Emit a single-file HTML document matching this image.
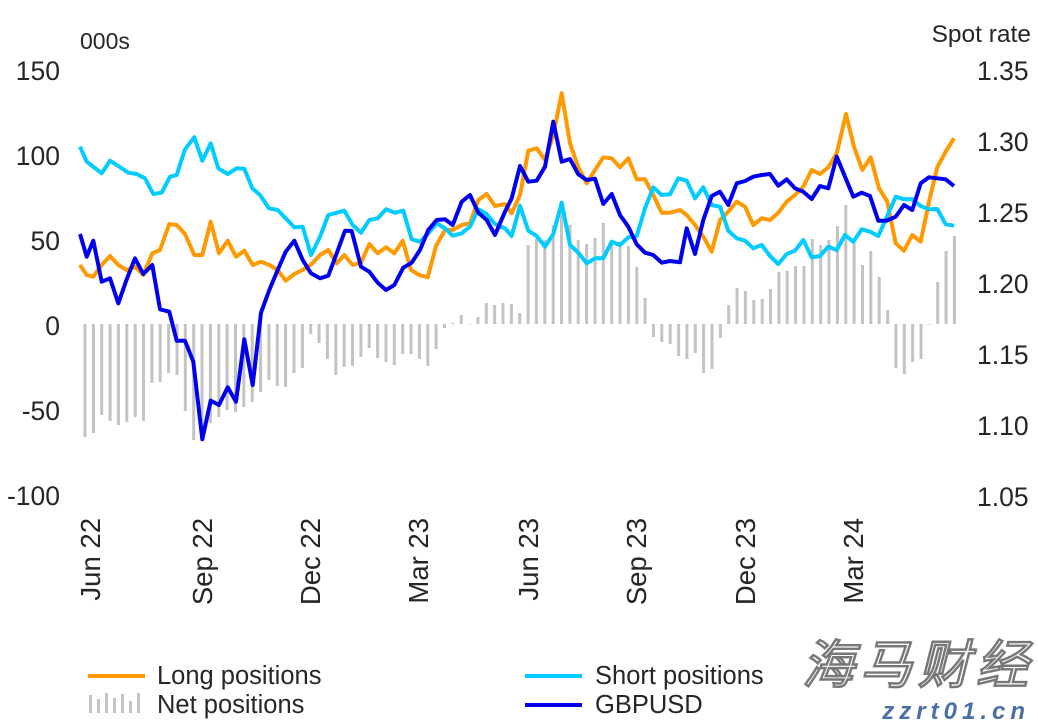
<!DOCTYPE html>
<html><head><meta charset="utf-8"><style>
html,body{margin:0;padding:0;background:#fff;}
svg{display:block;font-family:"Liberation Sans",Arial,sans-serif;}
</style></head><body>
<svg id="c" width="1038" height="725" viewBox="0 0 1038 725" xmlns="http://www.w3.org/2000/svg">
<g id="bars" fill="#c3c3c3"></g>
<g id="lines" fill="none" stroke-width="4" stroke-linejoin="round"></g>
<g font-size="26.5" fill="#262626" text-anchor="end">
<text x="60" y="80">150</text><text x="60" y="165">100</text><text x="60" y="250">50</text>
<text x="60" y="335">0</text><text x="60" y="420">-50</text><text x="60" y="505">-100</text>
</g>
<g font-size="26.5" fill="#262626">
<text x="977" y="80">1.35</text><text x="977" y="151">1.30</text><text x="977" y="222">1.25</text>
<text x="977" y="293">1.20</text><text x="977" y="364">1.15</text><text x="977" y="435">1.10</text>
<text x="977" y="506">1.05</text>
</g>
<text x="80" y="49" font-size="23" fill="#262626">000s</text>
<text x="1031" y="42" font-size="24.5" fill="#262626" text-anchor="end">Spot rate</text>
<g font-size="27.5" fill="#262626" text-anchor="end">
<text transform="translate(100,518) rotate(-90)">Jun 22</text>
<text transform="translate(212,518) rotate(-90)">Sep 22</text>
<text transform="translate(320,518) rotate(-90)">Dec 22</text>
<text transform="translate(428,518) rotate(-90)">Mar 23</text>
<text transform="translate(538,518) rotate(-90)">Jun 23</text>
<text transform="translate(646,518) rotate(-90)">Sep 23</text>
<text transform="translate(755,518) rotate(-90)">Dec 23</text>
<text transform="translate(863,518) rotate(-90)">Mar 24</text>
</g>
<line x1="88" y1="676" x2="145" y2="676" stroke="#ff9900" stroke-width="4"/>
<text x="157" y="684" font-size="25.5" fill="#262626">Long positions</text>
<g fill="#c3c3c3">
<rect x="89" y="695" width="3" height="18"/><rect x="97" y="699" width="3" height="14"/>
<rect x="105" y="693" width="3" height="20"/><rect x="113" y="698" width="3" height="15"/>
<rect x="121" y="694" width="3" height="19"/><rect x="129" y="701" width="3" height="12"/>
<rect x="137" y="693" width="3" height="20"/>
</g>
<text x="157" y="713" font-size="25.5" fill="#262626">Net positions</text>
<line x1="525" y1="676" x2="582" y2="676" stroke="#00ccff" stroke-width="4"/>
<text x="595" y="684" font-size="25.5" fill="#262626">Short positions</text>
<line x1="525" y1="705" x2="582" y2="705" stroke="#0000ee" stroke-width="4"/>
<text x="595" y="713" font-size="25.5" fill="#262626">GBPUSD</text>
<text x="1034" y="683" font-size="52" fill="#fff" stroke="#777" stroke-width="0.8" text-anchor="end" font-style="italic" font-weight="bold" letter-spacing="6">海马财经</text>
<text x="1030" y="719" font-size="24" fill="#4a6fa5" text-anchor="end" font-style="italic" font-weight="bold" letter-spacing="5">zzrt01.cn</text>
</svg>
<script>
var NS="http://www.w3.org/2000/svg";
var net=[437,433,415,421,425,422,417,421,383,382,373,375,411,440,440,423,417,410,412,407,402,392,380,386,387,373,368,334,343,359,375,367,366,357,348,358,362,365,354,354,359,366,349,328,323,315,324,317,303,305,
303,304,313,245,239,240,225,202,225,240,244,238,223,241,242,246,267,298,337,342,344,356,359,353,373,369,338,305,288,291,300,299,289,272,271,266,266,239,245,240,226,205,243,265,251,277,310,368,374,362,359,324,282,251,236];
var g=document.getElementById("bars");
for(var i=0;i<net.length;i++){var x=85+i*8.36-1.5;var y=net[i];var y0=324;
 var r=document.createElementNS(NS,"rect");r.setAttribute("x",x.toFixed(1));r.setAttribute("width","3");
 r.setAttribute("y",Math.min(y,y0));r.setAttribute("height",Math.max(Math.abs(y-y0),0.5));g.appendChild(r);}
function conv(a,ox,oy,lim){var out=[];for(var i=0;i<a.length;i++){if(lim&&a[i][0]>=lim)continue;out.push((ox+a[i][0]/3).toFixed(1)+","+(oy+a[i][1]/3).toFixed(1));}return out;}
var S={
o1:[[15,525],[35,555],[55,560],[80,525],[105,498],[130,525],[155,540],[180,530],[205,555],[232,490],[255,480],[283,402],[305,405],[330,432],[358,495],[382,495],[407,395],[432,490],[458,452],[483,500],[508,482],[533,525],[558,515],[583,525],[608,540],[632,572],[658,552],[683,540],[710,522],[735,495],[760,480],[785,520],[808,495],[833,525],[858,518],[883,462],[908,490],[933,472],[958,490],[983,452],[1008,540],[1033,555],[1058,562],[1083,468],[1110,420],[1133,420],[1160,405],[1185,400],[1210,330],[1235,312],[1260,348]],
o2:[[0,375],[15,372],[35,400],[60,345],[85,212],[110,205],[135,240],[160,165],[185,40],[210,190],[235,262],[260,310],[285,270],[310,232],[335,235],[360,262],[385,235],[410,298],[435,298],[460,345],[485,398],[510,398],[540,390],[560,405],[585,435],[610,470],[635,515],[660,420],[685,395],[710,365],[735,380],[760,435],[785,415],[810,420],[835,398],[860,365],[885,345],[910,320],[935,270],[960,282],[985,262],[1010,220],[1038,102],[1062,200],[1087,270],[1112,232],[1137,325],[1162,365],[1187,490],[1212,512],[1237,465],[1262,485],[1287,365],[1312,262],[1337,215],[1362,175]],
c1:[[15,170],[35,215],[80,250],[105,212],[130,228],[160,248],[185,252],[210,265],[235,312],[260,308],[285,260],[305,255],[330,178],[358,142],[382,212],[407,160],[430,235],[458,252],[485,235],[508,236],[532,295],[555,315],[582,355],[608,360],[632,385],[658,412],[683,410],[708,495],[735,440],[760,375],[808,362],[833,405],[858,428],[883,390],[908,385],[933,358],[960,368],[985,362],[1010,448],[1035,455],[1060,430],[1085,400],[1110,415],[1133,437],[1160,430],[1185,410],[1210,358],[1235,372],[1258,400]],
c2:[[0,440],[15,445],[35,468],[60,377],[85,452],[110,468],[135,500],[160,462],[185,368],[210,495],[235,518],[260,550],[285,535],[310,535],[335,485],[360,495],[385,472],[410,468],[435,385],[460,322],[485,345],[510,343],[535,295],[560,302],[585,355],[610,322],[635,375],[660,380],[685,452],[710,475],[735,482],[760,505],[785,495],[810,528],[835,552],[860,522],[885,512],[910,480],[935,532],[960,528],[985,500],[1010,510],[1035,465],[1060,485],[1085,448],[1110,455],[1135,468],[1160,412],[1187,350],[1212,358],[1237,358],[1262,378],[1287,388],[1312,387],[1337,433],[1362,437]],
b1:[[15,432],[35,500],[55,452],[80,575],[105,565],[130,640],[155,568],[180,505],[205,552],[232,525],[255,658],[283,665],[305,752],[330,752],[355,815],[382,1048],[407,932],[432,945],[458,892],[483,935],[508,748],[533,885],[558,668],[583,600],[608,540],[632,485],[658,452],[683,510],[708,550],[735,565],[760,557],[785,490],[810,422],[830,423],[858,530],[883,545],[908,578],[933,600],[958,585],[985,533],[1010,518],[1035,480],[1060,420],[1085,390],[1110,388],[1133,405],[1160,335],[1185,315],[1210,368],[1235,390],[1260,435]],
b2:[[0,430],[15,395],[35,355],[60,258],[85,305],[110,302],[135,260],[160,125],[185,245],[210,237],[235,283],[260,300],[285,296],[310,372],[335,342],[360,405],[385,440],[410,493],[435,518],[460,525],[485,548],[510,543],[540,547],[560,445],[585,522],[610,420],[635,348],[660,335],[685,375],[710,310],[735,303],[760,290],[785,285],[810,282],[835,317],[860,298],[885,325],[910,335],[935,357],[960,318],[985,325],[1010,230],[1035,290],[1060,350],[1085,338],[1110,348],[1135,422],[1160,422],[1187,410],[1212,375],[1237,390],[1262,310],[1287,292],[1312,295],[1337,298],[1362,318]]
};
var L=document.getElementById("lines");
function addLine(a,b,col){var pts=conv(a,75,90,1275).concat(conv(b,500,80));
 var p=document.createElementNS(NS,"polyline");p.setAttribute("points",pts.join(" "));p.setAttribute("stroke",col);L.appendChild(p);}
addLine(S.o1,S.o2,"#ff9900");
addLine(S.c1,S.c2,"#00ccff");
addLine(S.b1,S.b2,"#0000ee");
</script>
</body></html>
